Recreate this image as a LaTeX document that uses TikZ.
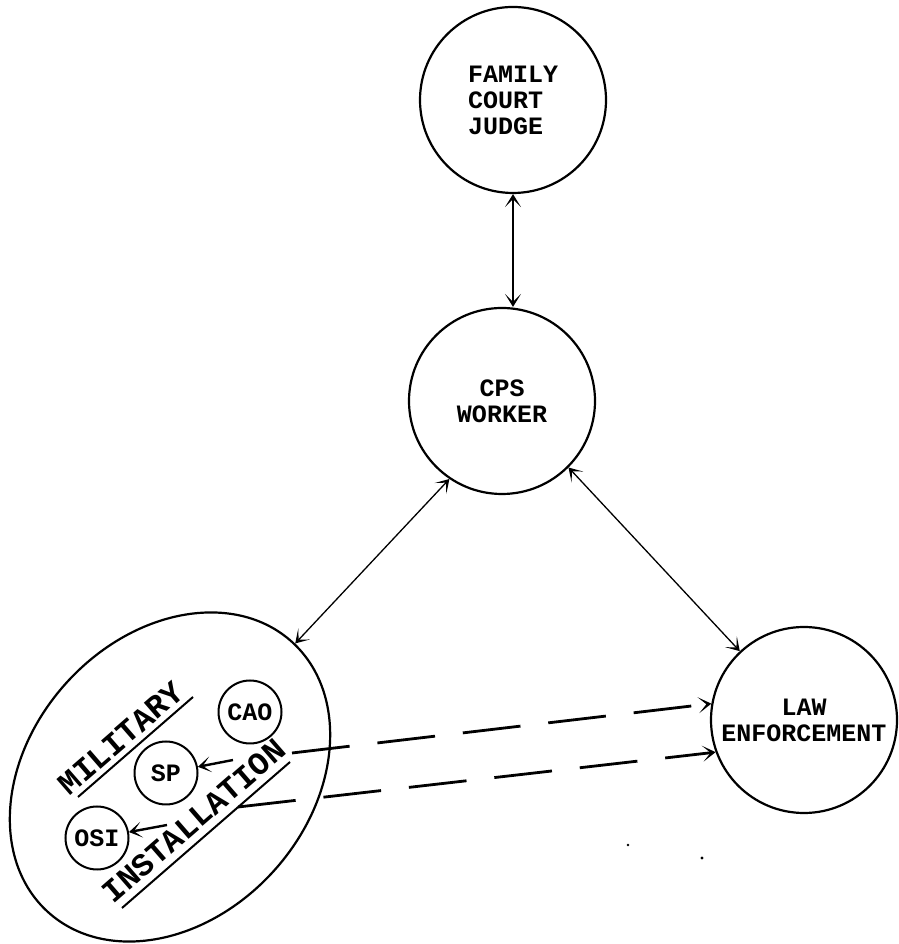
\documentclass[tikz,border=0pt]{standalone}
\usepackage{fontspec}
\setmonofont{Liberation Mono}
\usetikzlibrary{shapes.geometric,arrows.meta,calc}
\begin{document}
\begin{tikzpicture}[x=1pt,y=1pt,
  lbl/.style={font=\ttfamily\bfseries\fontsize{25}{26}\selectfont},
  bigc/.style={circle, draw, line width=2.2pt, minimum size=186pt, inner sep=0pt, lbl},
  smallc/.style={circle, draw, line width=2pt, minimum size=63pt, inner sep=0pt, lbl},
  conn/.style={line width=1.3pt,
    {Stealth[length=13pt,width=16pt,inset=8pt]}-{Stealth[length=13pt,width=16pt,inset=8pt]}},
  oneway/.style={line width=2.4pt, -{Stealth[length=13pt,width=16pt,inset=8pt]}},
  dashline/.style={line width=2.8pt, dash pattern=on 58pt off 28pt,
    -{Stealth[length=13pt,width=16pt,inset=8pt]}},
  rot/.style={rotate=41, font=\ttfamily\bfseries\fontsize{32}{32}\selectfont, inner sep=0pt},
  uline/.style={line width=2pt}]
\useasboundingbox (0,0) rectangle (898,944);
\fill[white] (0,0) rectangle (898,944);

% main nodes
\node[bigc, align=left] (judge) at (513,844) {FAMILY\\COURT\\JUDGE};
\node[bigc, align=center] (cps) at (502,543) {CPS\\WORKER};
\node[bigc, align=center] (le) at (804,224) {LAW\\ENFORCEMENT};
\node[ellipse, draw, line width=2.2pt, minimum width=364pt, minimum height=280pt,
      inner sep=0pt, rotate=48] (mil) at (170,167) {};

% inner nodes
\node[smallc] (cao) at (250,232) {CAO};
\node[smallc] (sp) at (166,171) {SP};
\node[smallc] (osi) at (97,106) {OSI};

% rotated labels
\node[rot] (miltxt) at (121,206) {MILITARY};
\node[rot] (insttxt) at (194,123) {INSTALLATION};
\draw[uline] (78,147) -- (193,247);
\draw[uline] (122,36) -- (290,182);

% solid connectors
\draw[conn] (judge.south) -- (cps.north -| judge.south);
\draw[conn] (cps.236) -- (mil);
\draw[conn] (cps.-45) -- (le);

% dashed connectors
\coordinate (spa) at (233,184);
\coordinate (spb) at (292,191);
\coordinate (osa) at (167,119);
\coordinate (osb) at (238,137);
\draw[oneway] (spa) -- (sp);
\draw[oneway] (osa) -- (osi);
\draw[dashline] (spb) -- (le.170);
\draw[dashline] (osb) -- (le.200);

% specks
\fill (628,99) circle (1.3);
\fill (702,86) circle (1.6);
\end{tikzpicture}
\end{document}
